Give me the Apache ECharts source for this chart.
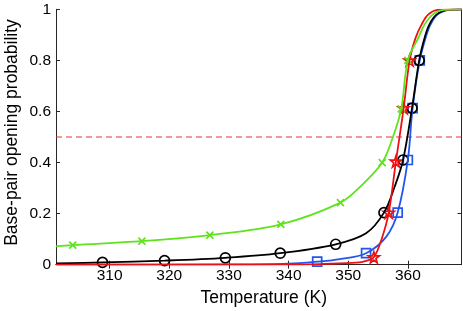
<!DOCTYPE html>
<html>
<head>
<meta charset="utf-8">
<script src="https://cdn.jsdelivr.net/npm/echarts@6/dist/echarts.min.js"></script>
<style>
html,body{margin:0;padding:0;background:#fff;}
#chart{width:463px;height:311px;}
</style>
</head>
<body>
<div id="chart"></div>
<script>
// Axis ticks
const xTicks = [310, 320, 330, 340, 350, 360];
const yTicks = [0, 0.2, 0.4, 0.6, 0.8, 1];

// Green (x markers)
const greenCurveT = [301, 303.8, 315.4, 326.8, 338.7, 348.7, 352, 355.7, 357.5, 358.9, 360.0, 361.8, 362.8, 364.2, 366, 369];
const greenCurveP = [0.072, 0.077, 0.092, 0.116, 0.158, 0.243, 0.305, 0.40, 0.50, 0.61, 0.80, 0.89, 0.94, 0.98, 0.998, 1];
const greenMarkT = [303.8, 315.4, 326.8, 338.7, 348.7, 355.7, 358.9, 360.0];
const greenMarkP = [0.077, 0.092, 0.116, 0.158, 0.243, 0.40, 0.61, 0.80];

// Black (circle markers)
const blackCurveT = [301, 308.8, 319.2, 329.4, 338.6, 347.9, 353, 356.0, 357.8, 359.2, 360.7, 361.9, 362.8, 363.6, 364.8, 366.7, 369];
const blackCurveP = [0.005, 0.009, 0.016, 0.027, 0.045, 0.080, 0.123, 0.204, 0.306, 0.41, 0.613, 0.80, 0.888, 0.94, 0.979, 0.998, 1];
const blackMarkT = [308.8, 319.2, 329.4, 338.6, 347.9, 356.0, 359.2, 360.7, 361.9];
const blackMarkP = [0.009, 0.016, 0.027, 0.045, 0.080, 0.204, 0.41, 0.613, 0.80];

// Blue (square markers)
const blueCurveT = [301, 330, 340, 344.8, 348.6, 353.0, 356.4, 358.3, 360.0, 360.8, 362.0, 363, 363.8, 365, 367, 369];
const blueCurveP = [0, 0.001, 0.004, 0.012, 0.022, 0.045, 0.11, 0.204, 0.41, 0.613, 0.80, 0.89, 0.94, 0.98, 0.998, 1];
const blueMarkT = [344.8, 353.0, 358.3, 360.0, 360.8, 362.0];
const blueMarkP = [0.012, 0.045, 0.204, 0.41, 0.613, 0.80];

// Red (star markers)
const redCurveT = [301, 340, 346, 351.4, 353, 354.3, 355.6, 356.8, 358.0, 359.3, 360.3, 361.3, 362.3, 363.4, 365, 369];
const redCurveP = [0, 0, 0.003, 0.008, 0.015, 0.029, 0.10, 0.204, 0.404, 0.613, 0.80, 0.888, 0.94, 0.979, 0.998, 1];
const redMarkT = [354.3, 356.8, 358.0, 359.3, 360.3];
const redMarkP = [0.029, 0.204, 0.404, 0.613, 0.80];

// Threshold
const thresholdT = [301, 369];
const thresholdP = [0.5, 0.5];

const zip = (a, b) => a.map((v, i) => [v, b[i]]);

const GREEN = '#5fe31c', BLACK = '#000000', BLUE = '#2255ee', RED = '#ee1111';
const AX = '#262626';
const FONT = 'Liberation Sans, Arial, Helvetica, sans-serif';

function curve(name, t, p, color) {
  return {
    name, type: 'line', data: zip(t, p), showSymbol: false, symbol: 'none',
    smooth: 0.35, lineStyle: { color, width: 1.8 }, itemStyle: { color }, silent: true
  };
}
function marks(name, t, p, color, symbol, size) {
  return {
    name, type: 'scatter', data: zip(t, p), symbol, symbolSize: size,
    itemStyle: { color: 'transparent', borderColor: color, borderWidth: 1.7, opacity: 1 },
    silent: true
  };
}

const CROSS = 'path://M0,0L10,10M10,0L0,10';
const STAR = 'path://M50,2L61,36L97,36L68,57L79,92L50,70L21,92L32,57L3,36L39,36Z';

const chart = echarts.init(document.getElementById('chart'), null, { renderer: 'canvas' });
chart.setOption({
  animation: false,
  backgroundColor: '#fff',
  grid: { left: 56, right: 1.5, top: 9.3, bottom: 46.3, containLabel: false, outerBoundsMode: 'none' },
  xAxis: [{
    type: 'value', min: 301, max: 369, position: 'bottom',
    axisLine: { show: true, lineStyle: { color: AX, width: 1 } },
    axisTick: { show: true, inside: true, length: 4, lineStyle: { color: AX }, customValues: xTicks },
    axisLabel: { show: true, customValues: xTicks, fontSize: 15.5, color: '#000', fontFamily: FONT, margin: 3 },
    splitLine: { show: false },
    name: 'Temperature (K)', nameLocation: 'middle', nameGap: 24, nameMoveOverlap: false,
    nameTextStyle: { fontSize: 17.5, color: '#000', fontFamily: FONT, padding: [0, 0, 0, 10] }
  }, {
    type: 'value', min: 301, max: 369, position: 'top',
    axisLine: { show: true, lineStyle: { color: AX, width: 1 } },
    axisTick: { show: true, inside: true, length: 4, lineStyle: { color: AX }, customValues: xTicks },
    axisLabel: { show: false }, splitLine: { show: false }
  }],
  yAxis: [{
    type: 'value', min: 0, max: 1, interval: 0.2, position: 'left',
    axisLine: { show: true, lineStyle: { color: AX, width: 1 } },
    axisTick: { show: true, inside: true, length: 4, lineStyle: { color: AX } },
    axisLabel: { show: true, fontSize: 15.5, color: '#000', fontFamily: FONT, margin: 5,
      formatter: v => (v === 0 ? '0' : v === 1 ? '1' : v.toFixed(1)) },
    splitLine: { show: false },
    name: 'Base-pair opening probability', nameLocation: 'middle', nameGap: 35, nameMoveOverlap: false,
    nameTextStyle: { fontSize: 17.5, color: '#000', fontFamily: FONT, padding: [0, 0, 0, 9] }
  }, {
    type: 'value', min: 0, max: 1, interval: 0.2, position: 'right',
    axisLine: { show: true, lineStyle: { color: AX, width: 1 } },
    axisTick: { show: true, inside: true, length: 4, lineStyle: { color: AX } },
    axisLabel: { show: false }, splitLine: { show: false }
  }],
  series: [
    { name: 'threshold', type: 'line', data: zip(thresholdT, thresholdP), symbol: 'none',
      lineStyle: { color: '#e83030', width: 1, type: [6, 4] }, silent: true },
    curve('blue', blueCurveT, blueCurveP, BLUE),
    curve('black', blackCurveT, blackCurveP, BLACK),
    curve('red', redCurveT, redCurveP, RED),
    curve('green', greenCurveT, greenCurveP, GREEN),
    marks('blueM', blueMarkT, blueMarkP, BLUE, 'rect', 9),
    marks('blackM', blackMarkT, blackMarkP, BLACK, 'circle', 10),
    marks('redM', redMarkT, redMarkP, RED, STAR, 11),
    marks('greenM', greenMarkT, greenMarkP, GREEN, CROSS, 7)
  ]
});
</script>
</body>
</html>
